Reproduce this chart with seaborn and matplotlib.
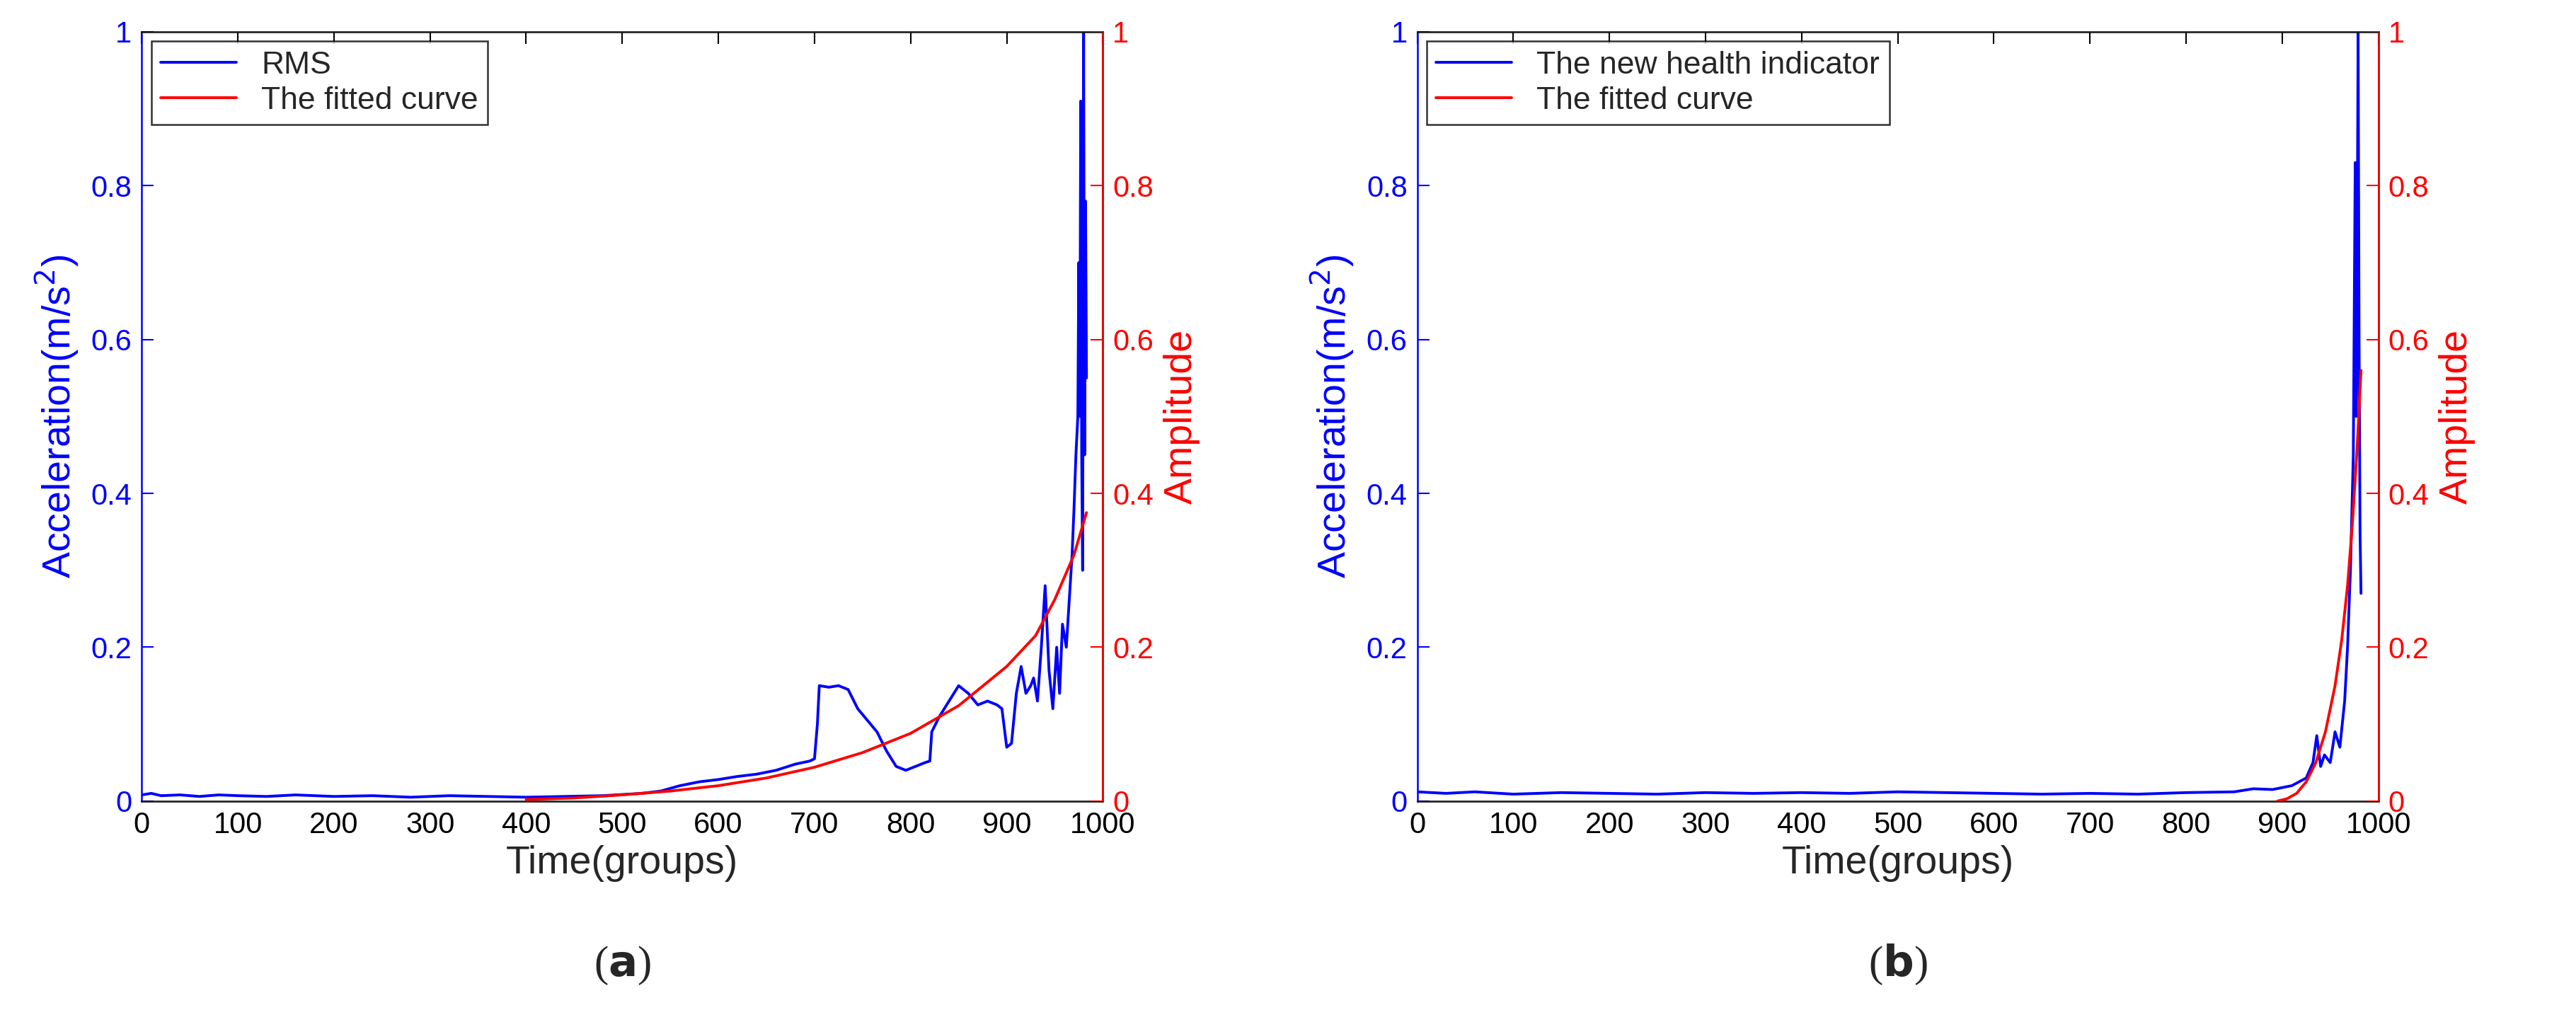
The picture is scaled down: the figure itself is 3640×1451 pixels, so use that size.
import numpy as np
import pandas as pd
import matplotlib
matplotlib.use("Agg")
import matplotlib.pyplot as plt
import seaborn as sns

sns.set_style("white")
plt.rcParams['font.family'] = ['Arial', 'Liberation Sans', 'DejaVu Sans']

# panel (a): RMS
rms_x = [0, 10, 20, 40, 60, 80, 100, 130, 160, 200, 240, 280, 320, 360, 400, 440, 480, 520,
         540, 560, 580, 600, 620, 640, 660, 680, 695, 700, 703, 705, 715, 725, 735, 745, 755,
         765, 775, 785, 795, 805, 815, 820, 822, 830, 840, 850, 860, 870, 880, 890, 895, 900,
         905, 910, 915, 920, 925, 928, 932, 936, 940, 944, 948, 952, 955, 958, 962, 965, 968,
         970, 972, 974, 975, 976, 977, 978, 979, 980, 981, 982, 983]
rms_y = [0.008, 0.01, 0.007, 0.008, 0.006, 0.008, 0.007, 0.006, 0.008, 0.006, 0.007, 0.005, 0.007,
         0.006, 0.005, 0.006, 0.007, 0.01, 0.013, 0.02, 0.025, 0.028, 0.032, 0.035, 0.04, 0.048,
         0.052, 0.055, 0.1, 0.15, 0.148, 0.15, 0.145, 0.12, 0.105, 0.09, 0.065, 0.045, 0.04, 0.045,
         0.05, 0.052, 0.09, 0.11, 0.13, 0.15, 0.14, 0.125, 0.13, 0.125, 0.12, 0.07, 0.075, 0.14,
         0.175, 0.14, 0.15, 0.16, 0.13, 0.2, 0.28, 0.17, 0.12, 0.2, 0.14, 0.23, 0.2, 0.26, 0.32,
         0.38, 0.45, 0.5, 0.7, 0.5, 0.91, 0.45, 0.3, 1.0, 0.45, 0.78, 0.55]
fit_a_x = [400, 450, 500, 550, 600, 650, 700, 750, 800, 850, 900, 930, 950, 970, 983]
fit_a_y = [0.002, 0.004, 0.008, 0.013, 0.02, 0.03, 0.044, 0.063, 0.088, 0.124, 0.175, 0.215, 0.262, 0.32, 0.375]

# panel (b): new health indicator
hi_x = [0, 30, 60, 100, 150, 200, 250, 300, 350, 400, 450, 500, 550, 600, 650, 700, 750, 800,
        850, 870, 890, 910, 925, 932, 936, 940, 944, 950, 955, 960, 965, 968, 971, 974, 976, 977,
        978, 979, 980, 981, 982]
hi_y = [0.012, 0.01, 0.012, 0.009, 0.011, 0.01, 0.009, 0.011, 0.01, 0.011, 0.01, 0.012, 0.011, 0.01,
        0.009, 0.01, 0.009, 0.011, 0.012, 0.016, 0.015, 0.02, 0.03, 0.05, 0.085, 0.045, 0.06, 0.05,
        0.09, 0.07, 0.13, 0.2, 0.3, 0.45, 0.83, 0.5, 0.7, 1.0, 0.6, 0.35, 0.27]
fit_b_x = [895, 905, 915, 925, 935, 945, 955, 962, 968, 973, 978, 982]
fit_b_y = [0.0, 0.003, 0.01, 0.025, 0.05, 0.09, 0.15, 0.21, 0.28, 0.36, 0.46, 0.56]

panels = [
    dict(x=rms_x, y=rms_y, fx=fit_a_x, fy=fit_a_y, name="RMS", tag="a", left=0.055),
    dict(x=hi_x, y=hi_y, fx=fit_b_x, fy=fit_b_y, name="The new health indicator", tag="b", left=0.55),
]

fig = plt.figure(figsize=(36.41, 14.51), dpi=100)
for p in panels:
    ax = fig.add_axes([p["left"], 0.22, 0.373, 0.749])
    ax2 = ax.twinx()
    df = pd.DataFrame({"x": p["x"], "y": p["y"]})
    fd = pd.DataFrame({"x": p["fx"], "y": p["fy"]})
    sns.lineplot(data=df, x="x", y="y", ax=ax, color="#0000ff", lw=2.8, label=p["name"], legend=False)
    sns.lineplot(data=fd, x="x", y="y", ax=ax2, color="#ff0000", lw=2.8, label="The fitted curve", legend=False)
    for a in (ax, ax2):
        a.set_xlim(0, 1000)
        a.set_ylim(0, 1)
        a.set_yticks(np.arange(0, 1.01, 0.2))
        a.set_yticklabels(["0", "0.2", "0.4", "0.6", "0.8", "1"])
    ax.set_xticks(range(0, 1001, 100))
    ax.tick_params(axis="x", labelsize=30, direction="in", length=12, width=1.5, top=True,
                   colors="black", pad=10)
    ax.tick_params(axis="y", labelsize=30, direction="in", length=12, width=1.5, colors="#0000ff", pad=10)
    ax2.tick_params(axis="y", labelsize=30, direction="in", length=12, width=1.5, colors="#ff0000", pad=10)
    ax.set_xlabel("Time(groups)", fontsize=40, labelpad=6)
    ax.set_ylabel("Acceleration(m/s$^2$)", fontsize=40, color="#0000ff", labelpad=10)
    ax2.set_ylabel("Amplitude", fontsize=40, color="#ff0000", labelpad=10)
    for s in ax.spines.values():
        s.set_color("black"); s.set_linewidth(1.8)
    ax.spines["left"].set_color("#0000ff")
    ax2.spines["left"].set_visible(False)
    ax2.spines["right"].set_color("#ff0000"); ax2.spines["right"].set_linewidth(1.8)
    h1, l1 = ax.get_legend_handles_labels()
    h2, l2 = ax2.get_legend_handles_labels()
    leg = ax2.legend(h1 + h2, l1 + l2, loc="upper left", fontsize=32, frameon=True, fancybox=False,
                     edgecolor="black", handlelength=2.4, borderaxespad=0.3, borderpad=0.3,
                     labelspacing=0.2)
    leg.get_frame().set_linewidth(1.8)
    fig.text(p["left"] + 0.373 / 2, 0.05, "(" + r"$\bf{" + p["tag"] + "}$" + ")", ha="center",
             fontsize=44, family="Liberation Serif")

fig.savefig("out.png", dpi=100)
